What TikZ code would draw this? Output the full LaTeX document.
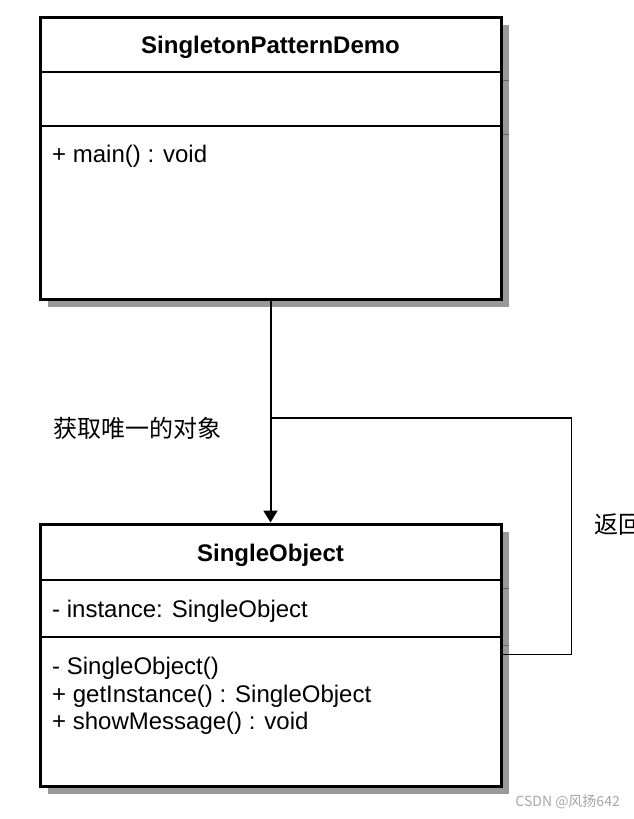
\documentclass[tikz,border=0pt]{standalone}
\usepackage{fontspec}
\setmainfont{Liberation Sans}
\newfontfamily\cjk{Noto Sans CJK SC}
\usetikzlibrary{positioning,shadows,arrows.meta}

\tikzset{
  classbox/.style={draw, line width=3pt, fill=white, minimum width=461pt, inner sep=0pt,
    drop shadow={shadow xshift=8pt, shadow yshift=-8pt, fill=black!40, opacity=1}},
  divider/.style={line width=2.5pt},
  member/.style={anchor=base west, inner sep=0pt, font=\fontsize{24pt}{28pt}\selectfont},
  classname/.style={anchor=base, inner sep=0pt, font=\fontsize{24pt}{28pt}\selectfont\bfseries},
  call/.style={line width=2pt, -{Triangle[length=12pt,width=14pt]}},
  retline/.style={line width=1.5pt},
  cjklabel/.style={inner sep=0pt, font=\cjk\fontsize{24pt}{28pt}\selectfont}
}

\begin{document}
\begin{tikzpicture}[x=1pt, y=-1pt]
  \useasboundingbox (0,0) rectangle (634,819);
  \node[classbox, minimum height=282pt] (demo) at (270.5,158) {};
  \node[classbox, minimum height=262pt] (single) at (270.5,655) {};
  \foreach \y in {72,126,580,637}
    {\draw[divider] (40,\y) -- (501,\y);
     \draw[black!60, line width=1pt] (502.5,\y+8) -- (509,\y+8);}
  \node[classname] (demoname) at (270.5,53) {SingletonPatternDemo};
  \node[member] (mainop) at (52,162) {+ main() : void};
  \node[classname] (singlename) at (270.5,561) {SingleObject};
  \node[member] (instattr) at (52,617) {- instance: SingleObject};
  \node[member] (ctor) at (52,674) {- SingleObject()};
  \node[member] (getop) at (52,702) {+ getInstance() : SingleObject};
  \node[member] (showop) at (52,729) {+ showMessage() : void};
  \draw[call] (demo.south) -- (single.north) coordinate[pos=.529] (fork);
  \coordinate (hook) at ([yshift=-132pt]single.north east);
  \draw[retline] (fork) -- ++(301,0) |- (hook);
  \node[cjklabel, left=49pt of fork, yshift=-10pt] (getlabel) {获取唯一的对象};
  \node[cjklabel, anchor=west] (retlabel) at (594,525) {返回};
  \node[anchor=east, inner sep=0pt, text=black!35, font=\cjk\fontsize{14pt}{16pt}\selectfont] (mark) at (620,802) {CSDN @风扬642};
\end{tikzpicture}
\end{document}
